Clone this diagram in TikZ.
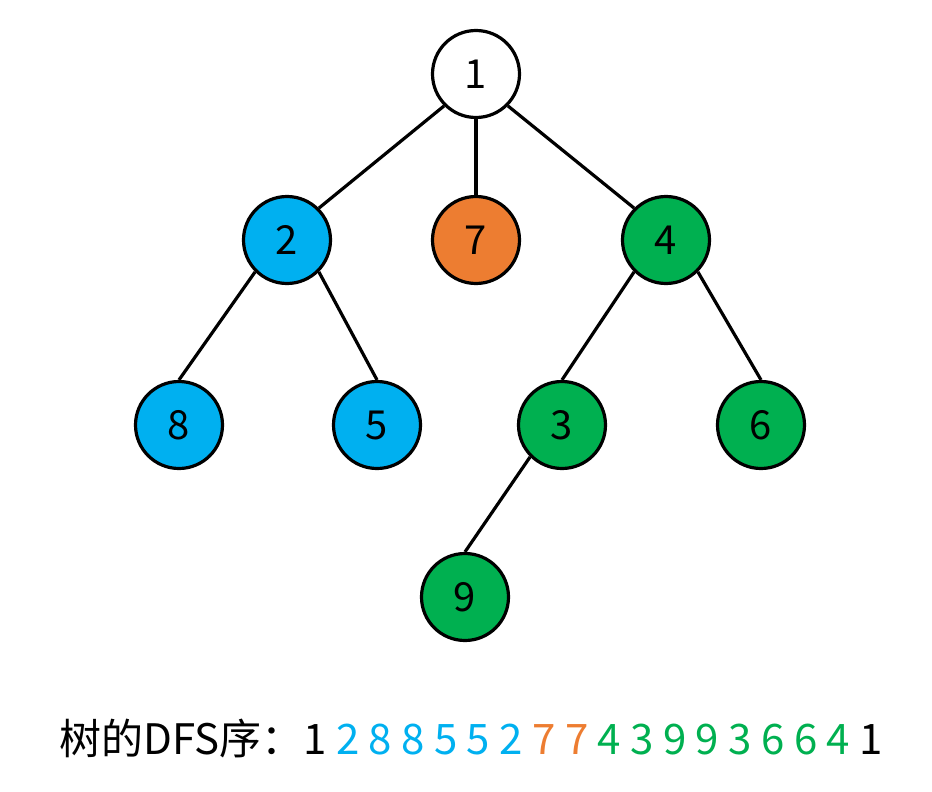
\documentclass[tikz,border=0pt]{standalone}
\usepackage{fontspec}
\setmainfont{Noto Sans CJK SC}
\definecolor{TreeBlue}{HTML}{00B0F0}
\definecolor{TreeOrange}{HTML}{ED7D31}
\definecolor{TreeGreen}{HTML}{00B050}
\begin{document}
\begin{tikzpicture}[x=1pt,y=-1pt,line width=3.2pt,font=\fontsize{40}{44}\selectfont,
  vert/.style={circle,draw=black,minimum size=87pt,inner sep=0pt}]
\useasboundingbox (0,0) rectangle (932,792);
\node[vert,fill=white] (n1) at (476,74) {1};
\node[vert,fill=TreeBlue] (n2) at (287,240) {2};
\node[vert,fill=TreeOrange] (n7) at (476,240) {7};
\node[vert,fill=TreeGreen] (n4) at (666,240) {4};
\node[vert,fill=TreeBlue] (n8) at (179,425) {8};
\node[vert,fill=TreeBlue] (n5) at (377,425) {5};
\node[vert,fill=TreeGreen] (n3) at (562,425) {3};
\node[vert,fill=TreeGreen] (n6) at (761,425) {6};
\node[vert,fill=TreeGreen] (n9) at (465,597) {9};
\draw (n1.south west)--(n2.north east);
\draw (n1.south)--(n7.north);
\draw (n1.south east)--(n4.north west);
\foreach \a/\b in {n2/n8,n4/n3,n3/n9}
  \draw (\a.south west)--(\b.north);
\foreach \a/\b in {n2/n5,n4/n6}
  \draw (\a.south east)--(\b.north);
\node[font=\fontsize{42}{46}\selectfont] (seq) at (471,738) {树的DFS序：1 \textcolor{TreeBlue}{2 8 8 5 5 2} \textcolor{TreeOrange}{7 7} \textcolor{TreeGreen}{4 3 9 9 3 6 6 4} 1};
\end{tikzpicture}
\end{document}
